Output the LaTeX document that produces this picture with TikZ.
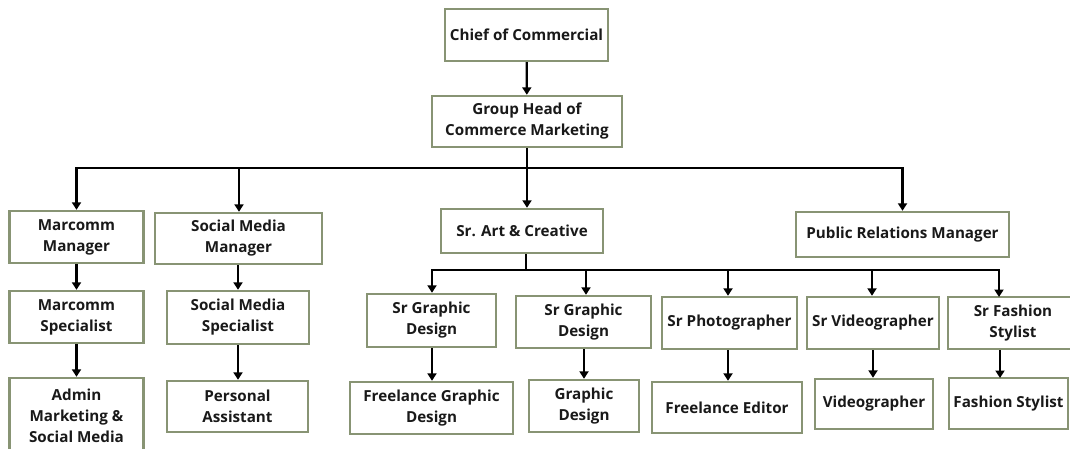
\documentclass[tikz,border=0pt]{standalone}
\usepackage{fontspec}
\setmainfont{Open Sans}
\usetikzlibrary{arrows.meta}
\definecolor{boxline}{RGB}{136,148,116}
\tikzset{
  box/.style={draw=boxline, line width=2.4pt, fill=white, inner sep=0pt,
    align=center, font=\bfseries\fontsize{15.2}{21}\selectfont, text=black!90},
  link/.style={draw=black, line width=2.3pt},
  arr/.style={link, -{Triangle[width=9pt,length=7.5pt]}}
}
\begin{document}
\begin{tikzpicture}[x=1pt,y=-1pt]
\clip (0,0) rectangle (1070,449);
\fill[white] (0,0) rectangle (1070,449);

% top of the chart
\node[box, minimum width=163pt, minimum height=52pt] (chief) at (526.5,35) {Chief of Commercial};
\node[box, minimum width=190pt, minimum height=51pt] (group) at (527,121.5) {Group Head of\\Commerce Marketing};

% department heads
\node[box, minimum width=134pt, minimum height=52pt] (mm) at (76.5,237) {Marcomm\\Manager};
\node[box, minimum width=167pt, minimum height=51pt] (smm) at (238.5,238.5) {Social Media\\Manager};
\node[box, minimum width=162pt, minimum height=44pt] (art) at (522,231) {Sr. Art \& Creative};
\node[box, minimum width=213pt, minimum height=45pt] (pr) at (902.5,234.5) {Public Relations Manager};

% marcomm and social media teams
\node[box, minimum width=134pt, minimum height=52pt] (ms) at (76.5,317) {Marcomm\\Specialist};
\node[box, minimum width=142pt, minimum height=53pt] (sms) at (238,317.5) {Social Media\\Specialist};
\node[box, minimum width=134pt, minimum height=76pt] (admin) at (76.5,416) {Admin\\Marketing \&\\Social Media};
\node[box, minimum width=141pt, minimum height=51pt] (pa) at (237.5,406.5) {Personal\\Assistant};

% art & creative seniors
\node[box, minimum width=129pt, minimum height=53pt] (sgd1) at (431.5,320.5) {Sr Graphic\\Design};
\node[box, minimum width=135pt, minimum height=52pt] (sgd2) at (583.5,322) {Sr Graphic\\Design};
\node[box, minimum width=135pt, minimum height=52pt] (sp) at (729.5,323) {Sr Photographer};
\node[box, minimum width=132pt, minimum height=52pt] (sv) at (873,323) {Sr Videographer};
\node[box, minimum width=130pt, minimum height=52pt] (sfs) at (1013,323) {Sr Fashion\\Stylist};

% art & creative staff
\node[box, minimum width=163pt, minimum height=52pt] (fgd) at (431.5,408) {Freelance Graphic\\Design};
\node[box, minimum width=110pt, minimum height=52pt] (gd) at (584,406) {Graphic\\Design};
\node[box, minimum width=150pt, minimum height=51pt] (fe) at (727,407.5) {Freelance Editor};
\node[box, minimum width=118pt, minimum height=50pt] (vid) at (874,404) {Videographer};
\node[box, minimum width=119pt, minimum height=51pt] (fs) at (1008.5,403.5) {Fashion Stylist};

% bus lines
\coordinate (bus1) at (527,168);
\coordinate (bus2) at (526,270);
\coordinate (sfsin) at (999,297);
\coordinate (fsx) at (1000,378);

\draw[arr] (chief) -- (group);
\draw[link] (group.south) -- (bus1);
\draw[arr] (bus1) -| (mm.north);
\draw[arr] (bus1) -| (smm.north -| 239,0);
\draw[arr] (bus1) -- (bus1 |- art.north);
\draw[arr] (bus1) -| (pr.north);

\draw[arr] (mm) -- (ms);
\draw[arr] (ms) -- (admin);
\draw[arr] (smm.south -| 238,0) -- (sms.north -| 238,0);
\draw[arr] (sms.south -| 238,0) -- (pa.north -| 238,0);

\draw[link] (art.south -| bus2) -- (bus2);
\draw[arr] (bus2) -| (sgd1.north -| 432,0);
\draw[arr] (bus2) -| (sgd2.north -| 586,0);
\draw[arr] (bus2) -| (sp.north -| 728,0);
\draw[arr] (bus2) -| (sv.north -| 872,0);
\draw[arr] (bus2) -| (sfsin);

\draw[arr] (sgd1.south -| 432,0) -- (fgd.north -| 432,0);
\draw[arr] (sgd2.south -| 584,0) -- (gd.north -| 584,0);
\draw[arr] (sp.south -| 728,0) -- (fe.north -| 728,0);
\draw[arr] (sv.south -| 873,0) -- (vid.north -| 873,0);
\draw[arr] (sfs.south -| fsx) -- (fsx);
\end{tikzpicture}
\end{document}
